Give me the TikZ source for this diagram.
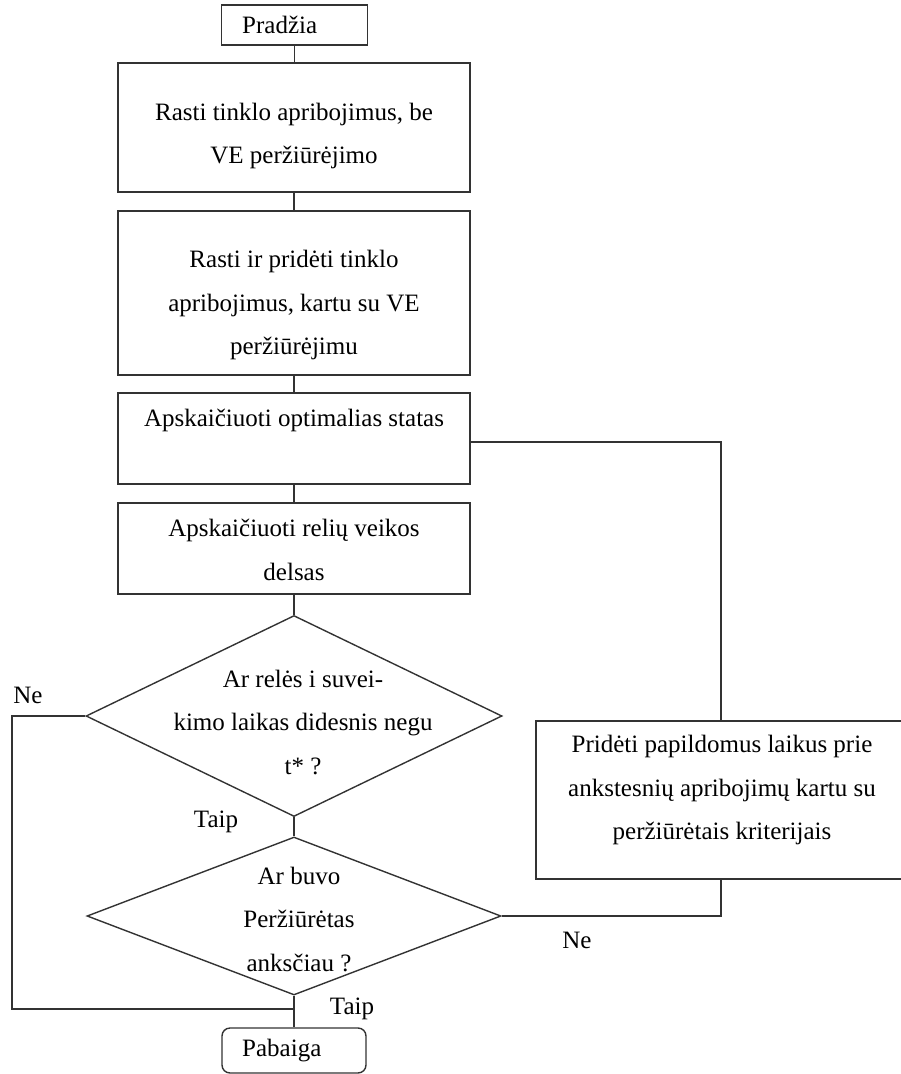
\documentclass[tikz,border=0pt]{standalone}
\usepackage{fontspec}
\setmainfont{Liberation Serif}
\usetikzlibrary{shapes.geometric}
\begin{document}
\begin{tikzpicture}[x=1pt,y=-1pt,
  box/.style={draw=black!80,line width=1.4pt,inner sep=0pt,rectangle},
  dia/.style={draw=black!80,line width=1.4pt,inner sep=0pt,diamond},
  txt/.style={inner sep=0pt,align=center,font=\fontsize{25}{43.5}\selectfont},
  conn/.style={draw=black!80,line width=1.4pt}
]
\useasboundingbox (0,0) rectangle (901,1074);

% boxes
\node[box,minimum width=146pt,minimum height=40pt] (start) at (294.5,25) {};
\node[txt,anchor=west] (startt) at (242,25) {Pradžia};

\node[box,minimum width=352pt,minimum height=129pt] (b1) at (294,127.5) {};
\node[txt] (b1t) at (294,136) {Rasti tinklo apribojimus, be\\VE peržiūrėjimo};

\node[box,minimum width=352pt,minimum height=164pt] (b2) at (294,293) {};
\node[txt] (b2t) at (294,305) {Rasti ir pridėti tinklo\\apribojimus, kartu su VE\\peržiūrėjimu};

\node[box,minimum width=352pt,minimum height=91pt] (b3) at (294,438.5) {};
\node[txt] (b3t) at (294,420) {Apskaičiuoti optimalias statas};

\node[box,minimum width=352pt,minimum height=91pt] (b4) at (294,548.5) {};
\node[txt] (b4t) at (294,550) {Apskaičiuoti relių veikos\\delsas};

\node[dia,minimum width=416pt,minimum height=201pt] (d1) at (294,716) {};
\node[txt] (d1t) at (303,722) {Ar relės i suvei-\\kimo laikas didesnis negu\\t* ?};

\node[dia,minimum width=414pt,minimum height=158pt] (d2) at (294,916) {};
\node[txt] (d2t) at (299,919) {Ar buvo\\Peržiūrėtas\\anksčiau ?};

\node[box,minimum width=370pt,minimum height=158pt] (rb) at (721,800) {};
\node[txt] (rbt) at (722,790) {Pridėti papildomus laikus prie\\ankstesnių apribojimų kartu su\\peržiūrėtais kriterijais};

\node[box,rounded corners=8pt,minimum width=144pt,minimum height=45pt] (end) at (294,1050.5) {};
\node[txt,anchor=west] (endt) at (242,1050.5) {Pabaiga};

% labels
\node[txt] (ne1) at (28,695) {Ne};
\node[txt] (taip1) at (216,822) {Taip};
\node[txt] (ne2) at (577,940) {Ne};
\node[txt] (taip2) at (352,1009) {Taip};

% connectors
\coordinate (c1) at (721,442);
\coordinate (c2) at (12,1009);
\draw[conn] (start.south) -- (start.south |- b1.north);
\draw[conn] (b1.south) -- (b2.north);
\draw[conn] (b2.south) -- (b3.north);
\draw[conn] (b3.south) -- (b4.north);
\draw[conn] (b4.south) -- (d1.north);
\draw[conn] (d1.south) -- (d2.north);
\draw[conn] (b3.east |- c1) -- (c1) -- (rb.north);
\draw[conn] (rb.south) |- (d2.east);
\draw[conn] (d1.west) -| (c2) -- (c2 -| d2.south);
\draw[conn] (d2.south) -- (end.north);
\end{tikzpicture}
\end{document}
